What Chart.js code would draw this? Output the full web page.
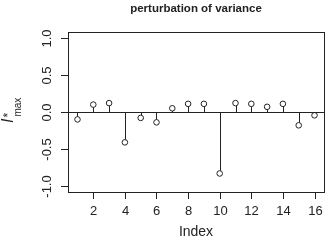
<!DOCTYPE html>
<html>
<head>
<meta charset="utf-8">
<script src="https://cdn.jsdelivr.net/npm/chart.js@4/dist/chart.umd.min.js"></script>
<style>
  html, body { margin: 0; padding: 0; background: #fff; }
  #wrap { width: 329px; height: 241px; }
</style>
</head>
<body>
<div id="wrap"><canvas id="canvas" width="329" height="241"></canvas></div>
<script>
  // values
  var idx = [1, 2, 3, 4, 5, 6, 7, 8, 9, 10, 11, 12, 13, 14, 15, 16];
  var imax = [-0.10, 0.10, 0.12, -0.41, -0.08, -0.14, 0.05, 0.11, 0.11, -0.83, 0.12, 0.11, 0.07, 0.11, -0.18, -0.045];
  var xTicks = [2, 4, 6, 8, 10, 12, 14, 16];
  var yTicks = [-1.0, -0.5, 0.0, 0.5, 1.0];
  var yTickLabels = ["-1.0", "-0.5", "0.0", "0.5", "1.0"];

  var ink = '#222';
  var font = '"Liberation Sans", Arial, sans-serif';

  // R-like axes, stems and labels drawn from the chart scales
  const rPlot = {
    id: 'rPlot',
    beforeDatasetsDraw(chart) {
      const ctx = chart.ctx, xs = chart.scales.x, ys = chart.scales.y;
      const a = chart.chartArea;
      ctx.save();
      ctx.strokeStyle = ink;
      ctx.lineWidth = 1;
      // zero line
      var y0 = Math.round(ys.getPixelForValue(0)) + 0.5;
      ctx.beginPath();
      ctx.moveTo(a.left, y0);
      ctx.lineTo(a.right, y0);
      ctx.stroke();
      // stems
      for (var i = 0; i < idx.length; i++) {
        var px = Math.round(xs.getPixelForValue(idx[i])) + 0.5;
        var py = ys.getPixelForValue(imax[i]);
        var r = 2.8;
        ctx.beginPath();
        ctx.moveTo(px, y0);
        ctx.lineTo(px, imax[i] < 0 ? py - r : py + r);
        ctx.stroke();
      }
      ctx.restore();
    },
    afterDraw(chart) {
      const ctx = chart.ctx, xs = chart.scales.x, ys = chart.scales.y;
      const a = chart.chartArea;
      ctx.save();
      ctx.strokeStyle = ink;
      ctx.fillStyle = ink;
      ctx.lineWidth = 1;
      // box
      ctx.strokeRect(Math.round(a.left) + 0.5, Math.round(a.top) + 0.5,
        Math.round(a.right - a.left), Math.round(a.bottom - a.top));
      // x ticks
      ctx.font = '13px ' + font;
      ctx.textAlign = 'center';
      ctx.textBaseline = 'middle';
      xTicks.forEach(function (t) {
        var px = Math.round(xs.getPixelForValue(t)) + 0.5;
        ctx.beginPath();
        ctx.moveTo(px, a.bottom);
        ctx.lineTo(px, a.bottom + 7);
        ctx.stroke();
        ctx.fillText(String(t), px, a.bottom + 19);
      });
      // y ticks (labels rotated like R)
      yTicks.forEach(function (t, k) {
        var py = Math.round(ys.getPixelForValue(t)) + 0.5;
        ctx.beginPath();
        ctx.moveTo(a.left, py);
        ctx.lineTo(a.left - 7, py);
        ctx.stroke();
        ctx.save();
        ctx.translate(a.left - 21, py);
        ctx.rotate(-Math.PI / 2);
        ctx.fillText(yTickLabels[k], 0, 0);
        ctx.restore();
      });
      // x title
      ctx.font = '14px ' + font;
      ctx.fillText('Index', (a.left + a.right) / 2, a.bottom + 40);
      // main title
      ctx.font = 'bold 11.5px ' + font;
      ctx.fillText('perturbation of variance', (a.left + a.right) / 2, 9);
      // y title: I*max
      ctx.save();
      ctx.translate(13, (a.top + a.bottom) / 2);
      ctx.rotate(-Math.PI / 2);
      ctx.textAlign = 'left';
      ctx.textBaseline = 'alphabetic';
      ctx.font = 'italic 16px ' + font;
      var x0 = -11;
      ctx.fillText('I', x0, 0);
      var w = ctx.measureText('I').width;
      ctx.font = '12px ' + font;
      ctx.fillText('*', x0 + w + 1, -1);
      ctx.font = '10px ' + font;
      ctx.fillText('max', x0 + w + 2, 8);
      ctx.restore();
      ctx.restore();
    }
  };

  var points = idx.map(function (v, i) { return { x: v, y: imax[i] }; });

  const config = {
    type: 'scatter',
    data: {
      datasets: [{
        data: points,
        pointStyle: 'circle',
        pointRadius: 2.8,
        pointBorderWidth: 1,
        pointBorderColor: ink,
        pointBackgroundColor: 'rgba(0,0,0,0)'
      }]
    },
    options: {
      responsive: false,
      animation: false,
      events: [],
      layout: { padding: { left: 68, right: 4, top: 32, bottom: 49 } },
      plugins: { legend: { display: false }, tooltip: { enabled: false } },
      scales: {
        x: { type: 'linear', min: 0.4, max: 16.6, display: false },
        y: { type: 'linear', min: -1.08, max: 1.08, display: false }
      }
    },
    plugins: [rPlot]
  };

  const chart = new Chart(document.getElementById('canvas'), config);
</script>
</body>
</html>
